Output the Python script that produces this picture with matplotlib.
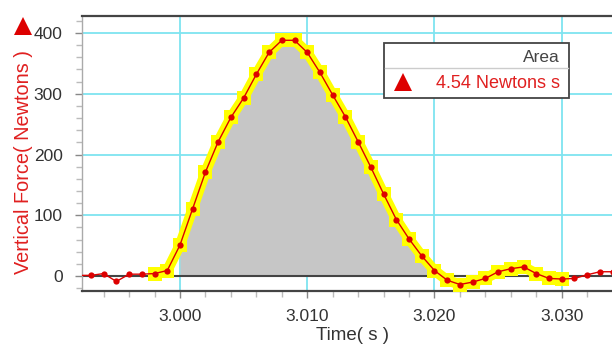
import numpy as np
import matplotlib
matplotlib.use("Agg")
import matplotlib.pyplot as plt
from matplotlib.patches import Rectangle
from matplotlib.lines import Line2D
from matplotlib.ticker import MultipleLocator, FixedLocator

plt.rcParams['font.family'] = ['Liberation Sans', 'DejaVu Sans']

# ---- data ----
time_s = [2.992, 2.993, 2.994, 2.995, 2.996, 2.997, 2.998, 2.999,
          3.000, 3.001, 3.002, 3.003, 3.004, 3.005, 3.006, 3.007, 3.008, 3.009,
          3.010, 3.011, 3.012, 3.013, 3.014, 3.015, 3.016, 3.017, 3.018, 3.019,
          3.020, 3.021, 3.022, 3.023, 3.024, 3.025, 3.026, 3.027, 3.028, 3.029,
          3.030, 3.031, 3.032, 3.033, 3.034]
force_n = [1, 1, 4, -9, 3, 3, 4, 9,
           51, 111, 171, 221, 261, 293, 332, 368, 388, 388,
           368, 335, 298, 262, 221, 179, 135, 93, 61, 33,
           9, -7, -14, -10, -4, 7, 12, 15, 4, -4,
           -5, -4, 2, 7, 7]
highlight_range = (2.998, 3.030)
area_range = (3.000, 3.020)
area_label = "4.54 Newtons s"
x_ticks = [3.000, 3.010, 3.020, 3.030]
x_tick_labels = ["3.000", "3.010", "3.020", "3.030"]
y_ticks = [0, 100, 200, 300, 400]

t = np.array(time_s)
f = np.array(force_n)

RED = '#dd0000'
TXT = '#333333'
GRID = '#7ee4f0'

fig = plt.figure(figsize=(6.12, 3.47), dpi=100)
ax = fig.add_axes([82/612, 1-291/347, 1-82/612, (291-16)/347])

ax.set_xlim(2.99230, 3.03395)
ax.set_ylim(-24.7, 428)

# grid
ax.xaxis.set_major_locator(FixedLocator(x_ticks))
ax.xaxis.set_minor_locator(MultipleLocator(0.002))
ax.yaxis.set_major_locator(FixedLocator(y_ticks))
ax.yaxis.set_minor_locator(MultipleLocator(20))
ax.set_xticklabels(x_tick_labels)
ax.grid(True, which='major', color=GRID, lw=1.3, zorder=0)
ax.set_axisbelow(True)

# area fill
m_area = (t >= area_range[0] - 1e-9) & (t <= area_range[1] + 1e-9)
ax.fill_between(t[m_area], f[m_area], 0, color='#c6c6c6', lw=0, zorder=1)

# zero line
ax.axhline(0, color='#444444', lw=1.5, zorder=2)

# highlight
m_hl = (t >= highlight_range[0] - 1e-9) & (t <= highlight_range[1] + 1e-9)
ax.plot(t[m_hl], f[m_hl], color='#ffff00', lw=7.5, solid_capstyle='butt',
        solid_joinstyle='round',
        marker='s', markersize=10.5, markeredgewidth=0, zorder=3)

# data line
ax.plot(t, f, color=RED, lw=1.0, marker='o', markersize=4.5,
        markeredgewidth=0, zorder=4)

# spines
ax.spines['right'].set_visible(False)
ax.spines['left'].set_color('#aaaaaa')
ax.spines['left'].set_linewidth(1.0)
for s in ['top', 'bottom']:
    ax.spines[s].set_color('#444444')
    ax.spines[s].set_linewidth(1.6)

ax.tick_params(axis='both', which='major', length=5, width=1, color='#888888',
               labelsize=12.5, labelcolor=TXT)
ax.tick_params(axis='both', which='minor', length=4, width=1, color='#bbbbbb')
ax.tick_params(axis='y', which='major', pad=9)
ax.tick_params(axis='x', which='major', pad=8)

# labels
fig.text(353/612, 1-336/347, "Time( s )", ha='center', va='center',
         fontsize=13.5, color=TXT)
fig.text(23.5/612, 1-162.5/347, "Vertical Force( Newtons )", ha='center',
         va='center', rotation=90, fontsize=14.3, color='#e02020')
fig.add_artist(Line2D([22.5/612], [1-26/347], marker='^', markersize=13.5,
                      color=RED, markeredgewidth=0, transform=fig.transFigure))

# legend box
x0, x1, ytop, ybot = 384, 569, 43, 98
fig.add_artist(Rectangle((x0/612, 1-ybot/347), (x1-x0)/612, (ybot-ytop)/347,
                         transform=fig.transFigure, facecolor='white',
                         edgecolor='#444444', lw=1.3, zorder=10))
fig.add_artist(Line2D([(x0+1)/612, (x1-1)/612], [1-67.5/347, 1-67.5/347],
                      color='#cccccc', lw=1.0, transform=fig.transFigure, zorder=11))
fig.text(560/612, 1-58/347, "Area", ha='right', va='center', fontsize=12.5,
         color='#444444', zorder=12)
fig.text(560/612, 1-83/347, area_label, ha='right', va='center', fontsize=13,
         color='#e02020', zorder=12)
fig.add_artist(Line2D([403/612], [1-82/347], marker='^', markersize=13,
                      color=RED, markeredgewidth=0, transform=fig.transFigure,
                      zorder=12))

fig.savefig("out.png", dpi=100)
